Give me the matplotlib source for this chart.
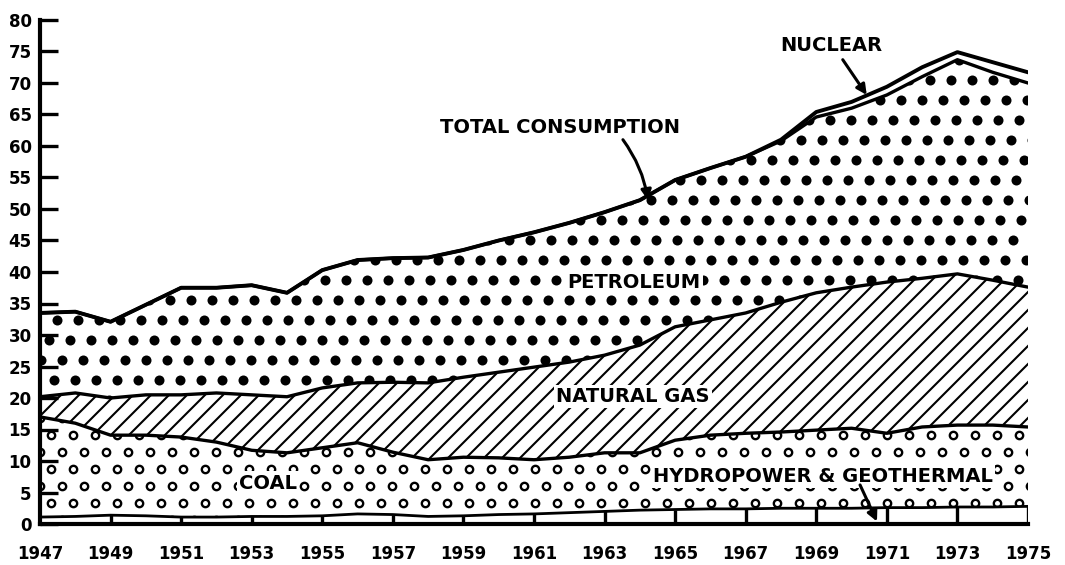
import numpy as np
import matplotlib
matplotlib.use("Agg")
import matplotlib.pyplot as plt
from matplotlib.collections import LineCollection

# energy consumption by source, 1947-1975
years = np.arange(1947, 1976)
hydro = [1.1, 1.2, 1.4, 1.3, 1.1, 1.1, 1.2, 1.2, 1.3, 1.6, 1.5, 1.2, 1.3, 1.5, 1.6,
         1.8, 2.0, 2.2, 2.3, 2.4, 2.4, 2.5, 2.5, 2.5, 2.6, 2.6, 2.7, 2.7, 2.8]
coal = [15.9, 14.8, 12.7, 12.8, 12.7, 11.9, 10.5, 10.1, 10.8, 11.3, 9.9, 9.0, 9.3, 9.0, 8.6,
        8.8, 9.3, 9.1, 11.0, 11.7, 12.0, 12.1, 12.4, 12.7, 11.8, 12.8, 13.0, 13.0, 12.6]
gas = [3.2, 4.8, 5.9, 6.4, 6.7, 7.8, 8.8, 8.9, 9.5, 9.5, 11.1, 12.2, 12.7, 13.6, 14.7,
       15.1, 15.5, 17.1, 18.0, 18.3, 19.1, 20.6, 21.8, 22.4, 24.0, 23.6, 24.0, 23.0, 22.2]
petroleum = [13.3, 12.9, 12.1, 14.3, 17.0, 16.7, 17.4, 16.5, 18.7, 19.5, 19.7, 19.9, 20.2, 20.9, 21.4,
             22.1, 22.7, 23.0, 23.3, 24.1, 24.8, 25.6, 27.9, 28.4, 29.7, 32.0, 34.0, 33.0, 32.4]
nuclear = [0, 0, 0, 0, 0, 0, 0, 0, 0, 0, 0, 0, 0, 0, 0,
           0, 0, 0, 0, 0, 0, 0.2, 0.8, 1.0, 1.3, 1.5, 1.2, 1.6, 1.7]

y_ticks = list(range(0, 81, 5))
x_ticks = list(range(1947, 1976, 2))

plt.rcParams['font.family'] = 'DejaVu Sans'
plt.rcParams['font.weight'] = 'bold'

W, H = 1065, 565
fig = plt.figure(figsize=(W / 100, H / 100), dpi=100)
ax_px = (40, 524, 988, 504)  # left, bottom(y from top), width, height
ax = fig.add_axes([ax_px[0] / W, 1 - ax_px[1] / H, ax_px[2] / W, ax_px[3] / H])
aw, ah = ax_px[2], ax_px[3]

# cumulative boundaries
b1 = np.array(hydro)
b2 = b1 + coal
b3 = b2 + gas
b4 = b3 + petroleum
b5 = b4 + nuclear


def texture(poly, dx, dy, shift, **kw):
    # lattice of markers in pixel space, clipped to a filled band
    xs, ys = [], []
    for j, yy in enumerate(np.arange(4, ah + dy, dy)):
        off = (j * shift) % dx
        for xx in np.arange(-dx, aw + dx, dx):
            xs.append((xx + off) / aw)
            ys.append(yy / ah)
    sc = ax.scatter(xs, ys, transform=ax.transAxes, zorder=2, **kw)
    sc.set_clip_path(poly.get_paths()[0], ax.transData)


def diagonal_hatch(poly, step, lw):
    segs = [[(c / aw, 0), ((c + ah) / aw, 1)] for c in np.arange(-ah, aw + step, step)]
    lc = LineCollection(segs, colors='black', linewidths=lw, transform=ax.transAxes, zorder=2)
    ax.add_collection(lc, autolim=False)
    lc.set_clip_path(poly.get_paths()[0], ax.transData)


hyd_poly = ax.fill_between(years, 0, b1, facecolor='white', edgecolor='none', zorder=1)
coal_poly = ax.fill_between(years, b1, b2, facecolor='white', edgecolor='none', zorder=1)
gas_poly = ax.fill_between(years, b2, b3, facecolor='white', edgecolor='none', zorder=1)
pet_poly = ax.fill_between(years, b3, b4, facecolor='white', edgecolor='none', zorder=1)

texture(pet_poly, 21, 20, 8, s=52, c='black', linewidths=0)
texture(coal_poly, 22, 17, 11, s=28, facecolors='white', edgecolors='black', linewidths=1.7)
diagonal_hatch(gas_poly, 18, 1.5)

# boundary lines
ax.plot(years, b5, color='black', lw=2.8, zorder=3)
ax.plot(years, b4, color='black', lw=2.4, zorder=3)
ax.plot(years, b3, color='black', lw=2.4, zorder=3)
ax.plot(years, b2, color='black', lw=2.4, zorder=3)
ax.plot(years, b1, color='black', lw=2.0, zorder=3)

# dividers in the hydropower strip
ax.vlines(x_ticks[1:], 0, [hydro[years.tolist().index(t)] for t in x_ticks[1:]],
          color='black', lw=2.4, zorder=3)

ax.set_xlim(1947, 1975)
ax.set_ylim(0, 80)
ax.set_yticks(y_ticks)
ax.set_xticks(x_ticks)
ax.tick_params(axis='y', direction='in', length=13, width=2.4, pad=6, labelsize=12)
ax.tick_params(axis='x', length=0, pad=15, labelsize=12)
for side in ('top', 'right'):
    ax.spines[side].set_visible(False)
ax.spines['left'].set_linewidth(3)
ax.spines['bottom'].set_linewidth(3)
ax.spines['left'].set_zorder(4)
ax.spines['bottom'].set_zorder(4)

box = dict(facecolor='white', edgecolor='none', pad=1.5)
fs = 14
ax.text(1961.73, 63.0, 'TOTAL CONSUMPTION', fontsize=fs, ha='center', va='center', zorder=5)
ax.text(1969.44, 76.0, 'NUCLEAR', fontsize=fs, ha='center', va='center', zorder=5)
ax.text(1963.83, 38.4, 'PETROLEUM', fontsize=fs, ha='center', va='center', bbox=box, zorder=5)
ax.text(1963.80, 20.2, 'NATURAL GAS', fontsize=fs, ha='center', va='center', bbox=box, zorder=5)
ax.text(1953.46, 6.5, 'COAL', fontsize=fs, ha='center', va='center', bbox=box, zorder=5)
ax.text(1969.19, 7.6, 'HYDROPOWER & GEOTHERMAL', fontsize=fs, ha='center', va='center',
        bbox=box, zorder=5)

arrow = dict(arrowstyle='-|>,head_length=0.6,head_width=0.3', color='black', lw=2.2,
             shrinkA=0, shrinkB=0)
ax.annotate('', xy=(1964.23, 51.4), xytext=(1963.52, 61.0),
            arrowprops=dict(connectionstyle='arc3,rad=-0.12', **arrow), zorder=6)
ax.annotate('', xy=(1970.43, 68.1), xytext=(1969.75, 73.7), arrowprops=arrow, zorder=6)
ax.annotate('', xy=(1970.72, 0.4), xytext=(1970.24, 6.2), arrowprops=arrow, zorder=6)

fig.savefig('out.png', dpi=100)
